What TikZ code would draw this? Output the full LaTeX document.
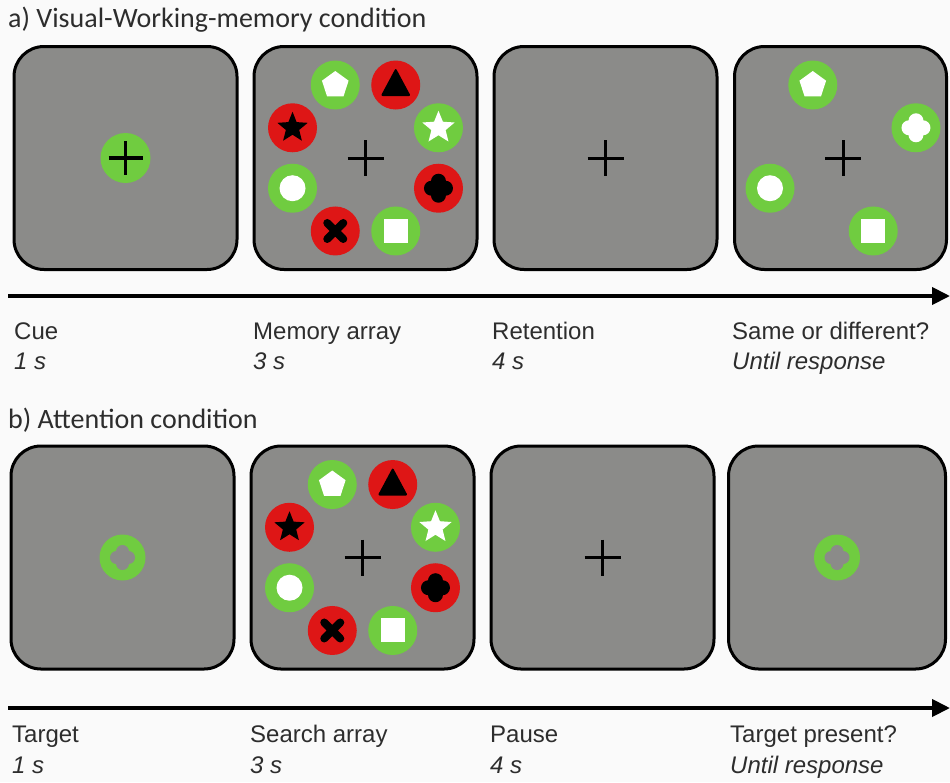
\documentclass[tikz,border=0pt]{standalone}
\usepackage{fontspec}
\setmainfont{Liberation Sans}
\newfontfamily\ttlfont{Carlito}
\usetikzlibrary{arrows.meta}
\definecolor{bgpage}{RGB}{250,250,250}
\definecolor{bggray}{RGB}{139,139,137}
\definecolor{stimgreen}{RGB}{112,204,64}
\definecolor{stimred}{RGB}{222,22,22}
\definecolor{txt}{RGB}{45,45,45}
\begin{document}
\begin{tikzpicture}[x=1pt,y=-1pt,
  panel/.style={draw=black, line width=3pt, fill=bggray, rounded corners=30pt,
                minimum width=223pt, minimum height=223pt, inner sep=0pt},
  lab/.style={font=\fontsize{24}{28}\selectfont, text=txt, inner sep=0pt, anchor=base west},
  labit/.style={lab, font=\fontsize{24}{28}\selectfont\itshape},
  ttl/.style={font=\ttlfont\fontsize{28}{32}\selectfont, text=txt, inner sep=0pt, anchor=base west},
  timeline/.style={line width=4pt, -{Triangle[length=18pt,width=17pt]}},
  fixcross/.pic={\draw[line width=3pt, black] (-18,0) -- (18,0) (0,-18) -- (0,18);},
  gdisk/.pic={\fill[stimgreen] (0,0) circle (24.5);},
  rdisk/.pic={\fill[stimred] (0,0) circle (24.5);},
  foil/.pic={
    \fill (-7,0) circle (7.5); \fill (7,0) circle (7.5);
    \fill (0,-7) circle (7.5); \fill (0,7) circle (7.5);
    \fill (-7,-7) rectangle (7,7);},
  smallfoil/.pic={
    \fill (-6,0) circle (6.5); \fill (6,0) circle (6.5);
    \fill (0,-6) circle (6.5); \fill (0,6) circle (6.5);
    \fill (-6,-6) rectangle (6,6);},
  gpent/.pic={\pic{gdisk}; \fill[white] (-90:14) -- (-18:14) -- (54:14) -- (126:14) -- (198:14) -- cycle;},
  gstar/.pic={\pic{gdisk}; \fill[white] (-90:17) -- (-54:7.5) -- (-18:17) -- (18:7.5) -- (54:17) -- (90:7.5) -- (126:17) -- (162:7.5) -- (198:17) -- (234:7.5) -- cycle;},
  gsquare/.pic={\pic{gdisk}; \fill[white] (-12,-12) rectangle (12,12);},
  gcirc/.pic={\pic{gdisk}; \fill[white] (0,0) circle (13);},
  gfoil/.pic={\pic{gdisk}; \begin{scope}[white]\pic{foil};\end{scope}},
  rtri/.pic={\pic{rdisk}; \fill[black, rounded corners=2pt] (0,-17) -- (15,11) -- (-15,11) -- cycle;},
  rstar/.pic={\pic{rdisk}; \fill[black] (-90:16) -- (-54:7) -- (-18:16) -- (18:7) -- (54:16) -- (90:7) -- (126:16) -- (162:7) -- (198:16) -- (234:7) -- cycle;},
  rfoil/.pic={\pic{rdisk}; \begin{scope}[black]\pic{foil};\end{scope}},
  rcross/.pic={\pic{rdisk}; \draw[black, line width=8pt, line cap=round] (-8,-8) -- (8,8) (-8,8) -- (8,-8);},
  cuedisk/.pic={\fill[stimgreen] (0,0) circle (25); \draw[line width=3.5pt, black] (-17,0) -- (17,0) (0,-17) -- (0,17);},
  targetring/.pic={\fill[stimgreen] (0,0) circle (23); \begin{scope}[bggray]\pic{smallfoil};\end{scope}},
  fullarray/.pic={
    \pic at (0,0) {fixcross};
    \pic at (-112.5:79) {gpent};
    \pic at (-67.5:79) {rtri};
    \pic at (-22.5:79) {gstar};
    \pic at (22.5:79) {rfoil};
    \pic at (67.5:79) {gsquare};
    \pic at (112.5:79) {rcross};
    \pic at (157.5:79) {gcirc};
    \pic at (-157.5:79) {rstar};
  },
  probearray/.pic={
    \pic at (0,0) {fixcross};
    \pic at (-112.5:79) {gpent};
    \pic at (-22.5:79) {gfoil};
    \pic at (67.5:79) {gsquare};
    \pic at (157.5:79) {gcirc};
  }
]
\useasboundingbox (0,0) rectangle (950,782);
\fill[bgpage] (0,0) rectangle (950,782);

% ---------- a) Visual working memory ----------
\node[ttl] (ta) at (8,27) {a) Visual-Working-memory condition};

\node[panel] (a1) at (125.5,158) {};
\node[panel] (a2) at (365.5,158) {};
\node[panel] (a3) at (605.5,158) {};
\node[panel, minimum width=212pt] (a4) at (840.5,158) {};

\pic at (a1.center) {cuedisk};
\pic at (a2.center) {fullarray};
\pic at (a3.center) {fixcross};
\pic at (843,158) {probearray};

\coordinate (tas) at (8,296);
\coordinate (tae) at (950,296);
\draw[timeline] (tas) -- (tae);

\node[lab] (la1) at (14,339) {Cue};
\node[labit] (ta1) at (14,369) {1 s};
\node[lab] (la2) at (253,339) {Memory array};
\node[labit] (ta2) at (253,369) {3 s};
\node[lab] (la3) at (492,339) {Retention};
\node[labit] (ta3) at (492,369) {4 s};
\node[lab] (la4) at (732,339) {Same or different?};
\node[labit] (ta4) at (732,369) {Until response};

% ---------- b) Attention ----------
\node[ttl] (tb) at (8,428) {b) Attention condition};

\node[panel] (b1) at (122.5,557.5) {};
\node[panel] (b2) at (362.5,557.5) {};
\node[panel] (b3) at (602.5,557.5) {};
\node[panel, minimum width=217pt] (b4) at (837,557.5) {};

\pic at (b1.center) {targetring};
\pic at (b2.center) {fullarray};
\pic at (b3.center) {fixcross};
\pic at (b4.center) {targetring};

\coordinate (tbs) at (8,708);
\coordinate (tbe) at (950,708);
\draw[timeline] (tbs) -- (tbe);

\node[lab] (lb1) at (12,742) {Target};
\node[labit] (tb1) at (12,773) {1 s};
\node[lab] (lb2) at (250,742) {Search array};
\node[labit] (tb2) at (250,773) {3 s};
\node[lab] (lb3) at (490,742) {Pause};
\node[labit] (tb3) at (490,773) {4 s};
\node[lab] (lb4) at (730,742) {Target present?};
\node[labit] (tb4) at (730,773) {Until response};
\end{tikzpicture}
\end{document}
